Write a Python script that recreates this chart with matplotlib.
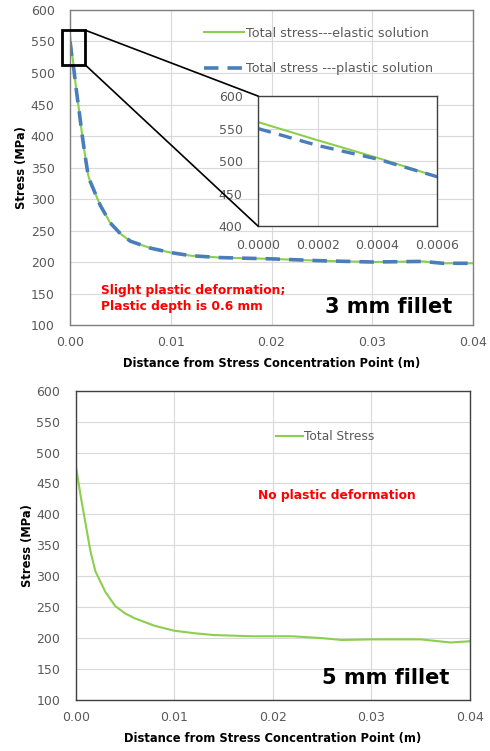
import numpy as np
import matplotlib
matplotlib.use('Agg')
import matplotlib.pyplot as plt
from matplotlib.patches import Rectangle, ConnectionPatch

plt.rcParams['font.family'] = ['DejaVu Sans']

# Datos: filete 3 mm (solucion elastica y plastica)
x_3mm = [0.0, 0.0002, 0.0004, 0.0006, 0.0009, 0.0012, 0.0015, 0.0018, 0.002, 0.003,
         0.004, 0.005, 0.006, 0.008, 0.010, 0.012, 0.015, 0.020, 0.025, 0.030,
         0.035, 0.037, 0.040]
elastic_3mm = [560, 532, 505, 476, 440, 402, 368, 338, 328, 290,
               262, 245, 233, 222, 215, 210, 207, 205, 202, 200,
               201, 198, 198]
plastic_3mm = [550, 524, 503, 476, 440, 402, 368, 338, 328, 290,
               262, 245, 233, 222, 215, 210, 207, 205, 202, 200,
               201, 198, 198]

# Datos: filete 5 mm
x_5mm = [0.0, 0.0005, 0.001, 0.0015, 0.002, 0.003, 0.004, 0.005, 0.006, 0.008,
         0.010, 0.012, 0.014, 0.016, 0.018, 0.022, 0.025, 0.027, 0.030, 0.035,
         0.038, 0.040]
total_5mm = [480, 430, 385, 340, 308, 275, 252, 240, 232, 220,
             212, 208, 205, 204, 203, 203, 200, 197, 198, 198,
             193, 195]

verde = '#8ccf4d'
azul = '#4a7ebb'
gris_txt = '#595959'
grid_c = '#d9d9d9'


def estilo_ejes(ax, borde):
    ax.set_ylim(100, 600)
    ax.set_xlim(0, 0.04)
    ax.set_yticks(np.arange(100, 601, 50))
    ax.set_xticks([0, 0.01, 0.02, 0.03, 0.04])
    ax.set_xticklabels(['0.00', '0.01', '0.02', '0.03', '0.04'])
    ax.grid(True, color=grid_c, linewidth=0.8)
    ax.set_axisbelow(True)
    ax.tick_params(axis='y', length=0, labelsize=9, colors=gris_txt, pad=11)
    ax.tick_params(axis='x', length=0, labelsize=9, colors=gris_txt, pad=8)
    for s in ax.spines.values():
        s.set_color(borde)
        s.set_linewidth(1.0)
    ax.set_ylabel('Stress (MPa)', fontsize=8.3, fontweight='bold', labelpad=2)
    ax.set_xlabel('Distance from Stress Concentration Point (m)', fontsize=8.3,
                  fontweight='bold', labelpad=6)


fig = plt.figure(figsize=(4.90, 7.51), dpi=100)

# ---- grafica superior: 3 mm ----
ax1 = fig.add_axes([0.1429, 0.5672, 0.8224, 0.4195])
ax1.plot(x_3mm, elastic_3mm, color=verde, linewidth=1.5,
         label='Total stress---elastic solution')
ax1.plot(x_3mm, plastic_3mm, color=azul, linewidth=2.6, dashes=(4, 2.5),
         label='Total stress ---plastic solution')
estilo_ejes(ax1, '#7f7f7f')
ax1.legend(loc='upper left', frameon=False, fontsize=9.2, handlelength=3.1,
           handletextpad=0.15, labelspacing=1.75, borderaxespad=0,
           bbox_to_anchor=(0.32, 0.963), labelcolor=gris_txt)
ax1.text(0.0031, 142, 'Slight plastic deformation;\nPlastic depth is 0.6 mm',
         color='#ff0000', fontsize=8.8, fontweight='bold', linespacing=1.3,
         va='center')
ax1.text(0.0379, 113, '3 mm fillet', fontsize=15, fontweight='bold',
         ha='right', va='bottom')

# recuadro de zoom
rect = Rectangle((-0.0008, 513), 0.0023, 55, fill=False, edgecolor='black',
                 linewidth=2, clip_on=False, zorder=5)
ax1.add_patch(rect)

# grafica insertada
axin = fig.add_axes([0.5265, 0.699, 0.3653, 0.1731])
axin.plot(x_3mm, elastic_3mm, color=verde, linewidth=1.5)
axin.plot(x_3mm, plastic_3mm, color=azul, linewidth=2.4, dashes=(4, 2.5))
axin.set_xlim(0, 0.0006)
axin.set_ylim(400, 600)
axin.set_xticks([0, 0.0002, 0.0004, 0.0006])
axin.set_xticklabels(['0.0000', '0.0002', '0.0004', '0.0006'])
axin.set_yticks([400, 450, 500, 550, 600])
axin.grid(True, color=grid_c, linewidth=0.8)
axin.set_axisbelow(True)
axin.tick_params(axis='y', length=0, labelsize=9, colors=gris_txt, pad=11)
axin.tick_params(axis='x', length=0, labelsize=9, colors=gris_txt, pad=9)
for s in axin.spines.values():
    s.set_color('#404040')
    s.set_linewidth(1.0)

for xy_a, xy_b in [((0.0015, 568), (0, 1)), ((0.0015, 513), (0, 0))]:
    con = ConnectionPatch(xyA=xy_a, coordsA=ax1.transData, xyB=xy_b,
                          coordsB=axin.transAxes, color='black', linewidth=1.2)
    fig.add_artist(con)

# ---- grafica inferior: 5 mm ----
ax2 = fig.add_axes([0.1545, 0.0679, 0.8047, 0.4119])
ax2.plot(x_5mm, total_5mm, color=verde, linewidth=1.5, label='Total Stress')
estilo_ejes(ax2, '#404040')
ax2.legend(loc='center left', frameon=False, fontsize=8.8, handlelength=2.2,
           handletextpad=0.15, borderaxespad=0,
           bbox_to_anchor=(0.495, 0.851), labelcolor=gris_txt)
ax2.text(0.0265, 431, 'No plastic deformation', color='#ff0000', fontsize=8.8,
         fontweight='bold', ha='center', va='center')
ax2.text(0.0379, 120, '5 mm fillet', fontsize=15, fontweight='bold',
         ha='right', va='bottom')

fig.savefig('out.png', dpi=100)
